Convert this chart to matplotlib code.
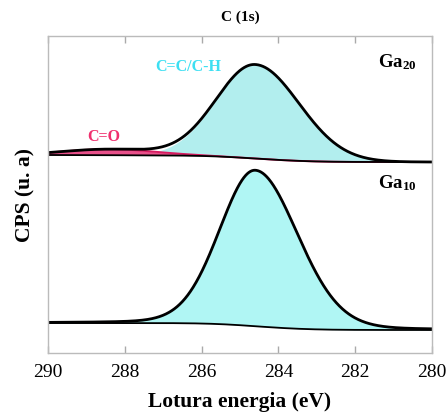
import numpy as np
import matplotlib.pyplot as plt

# C 1s fit parameters for each sample (binding energy in eV, intensity in a.u.)
samples = ['Ga$_{20}$', 'Ga$_{10}$']
base_high_be = [198, 30]      # background level at 290 eV
base_low_be = [191, 23]       # background level at 280 eV
cc_center = [284.6, 284.6]
cc_height = [94, 156]
cc_fwhm_high = [2.4, 2.2]     # width on the high binding energy side
cc_fwhm_low = [2.7, 2.6]      # width on the low binding energy side
cc_eta = [0.0, 0.1]           # lorentzian fraction of the pseudo-voigt
co_center = [288.4, 288.4]
co_height = [6, 0]
co_fwhm = [2.8, 2.8]
label_y = [291, 170]
fill_colors = ['#b2eeee', '#b0f6f4']

ticks = [290, 288, 286, 284, 282, 280]


def pseudo_voigt(x, center, height, fwhm_high, fwhm_low, eta=0.0):
    fwhm = np.where(x >= center, fwhm_high, fwhm_low)
    u = (x - center) / fwhm
    g = np.exp(-4 * np.log(2) * u ** 2)
    l = 1 / (1 + 4 * u ** 2)
    return height * ((1 - eta) * g + eta * l)


def shirley(x, signal, high, low):
    # x runs from high to low binding energy
    area = np.cumsum(signal)
    return high + (low - high) * area / area[-1]


plt.rcParams['font.family'] = ['Liberation Serif', 'DejaVu Serif']
plt.rcParams['font.weight'] = 'bold'
plt.rcParams['mathtext.fontset'] = 'custom'
plt.rcParams['mathtext.rm'] = 'Liberation Serif:bold'
plt.rcParams['mathtext.it'] = 'Liberation Serif:bold'
plt.rcParams['mathtext.bf'] = 'Liberation Serif:bold'

fig = plt.figure(figsize=(4.46, 4.12), dpi=100)
ax = fig.add_axes([0.1076, 0.1432, 0.861, 0.7694])

x = np.linspace(290, 280, 1001)
for i, name in enumerate(samples):
    cc = pseudo_voigt(x, cc_center[i], cc_height[i], cc_fwhm_high[i],
                      cc_fwhm_low[i], cc_eta[i])
    co = pseudo_voigt(x, co_center[i], co_height[i], co_fwhm[i], co_fwhm[i])
    bg = shirley(x, cc + co, base_high_be[i], base_low_be[i])

    ax.fill_between(x, bg, bg + cc, color=fill_colors[i], lw=0)
    if co_height[i] > 0:
        ax.fill_between(x, bg, bg + co, color='#e8508a', lw=0)
        ax.plot(x, bg + co, color='#d81b60', lw=1.4)
    ax.plot(x, bg, color='black', lw=1.3)
    ax.plot(x, bg + cc + co, color='black', lw=2)

    ax.text(280.9, label_y[i], name, fontsize=13.5, fontweight='bold',
            ha='center', va='center')

ax.text(286.35, 286, 'C=C/C-H', color='#3ddff2', fontsize=11.5,
        fontweight='bold', ha='center', va='center')
ax.text(288.55, 216, 'C=O', color='#f0306e', fontsize=11.5,
        fontweight='bold', ha='center', va='center')

ax.set_xlim(290, 280)
ax.set_ylim(0, 317)
ax.set_xticks(ticks)
ax.set_xticklabels([str(t) for t in ticks], fontweight='normal')
ax.set_yticks([])
ax.tick_params(axis='x', direction='in', top=True, length=5, width=1,
               color='#aaaaaa', labelsize=14, pad=8)
for spine in ax.spines.values():
    spine.set_color('#bbbbbb')
    spine.set_linewidth(1)

ax.set_xlabel('Lotura energia (eV)', fontsize=15.5, fontweight='bold', labelpad=8)
ax.set_ylabel('CPS (u. a)', fontsize=15.5, fontweight='bold', labelpad=9)
ax.set_title('C (1s)', fontsize=11, fontweight='bold', pad=11)

fig.savefig('out.png', dpi=100)
